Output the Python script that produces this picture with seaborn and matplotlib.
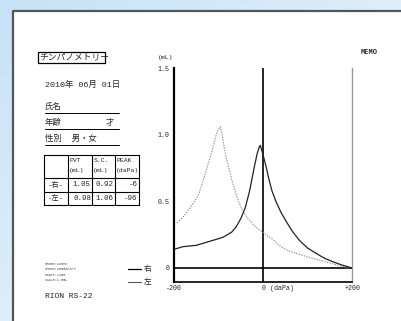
import numpy as np
import pandas as pd
import matplotlib
matplotlib.use("Agg")
import matplotlib.pyplot as plt
import seaborn as sns
from matplotlib.patches import Rectangle

# ---------------- data ----------------
right_pressure = [-200, -180, -150, -120, -90, -70, -60, -50, -40, -30, -20, -13, -8, -6,
                  0, 7, 13, 20, 29, 40, 52, 65, 81, 100, 119, 140, 155, 175, 200]
right_volume   = [0.14, 0.16, 0.17, 0.20, 0.23, 0.27, 0.31, 0.37, 0.45, 0.58, 0.75, 0.86, 0.91, 0.92,
                  0.85, 0.76, 0.67, 0.58, 0.50, 0.42, 0.35, 0.28, 0.21, 0.15, 0.11, 0.07, 0.05, 0.025, 0.0]

left_pressure = [-193, -180, -173, -162, -150, -144, -135, -125, -115, -106, -100, -96, -92, -88,
                 -83, -76, -70, -61, -55, -47, -40, -31, -20, -10, 0, 10, 20, 36, 50, 65, 85,
                 103, 120, 142, 170, 193]
left_volume   = [0.34, 0.38, 0.41, 0.46, 0.52, 0.56, 0.65, 0.76, 0.87, 0.99, 1.04, 1.06, 1.0, 0.92,
                 0.83, 0.74, 0.66, 0.56, 0.50, 0.44, 0.40, 0.36, 0.32, 0.29, 0.27, 0.24, 0.22, 0.17,
                 0.14, 0.12, 0.10, 0.08, 0.065, 0.045, 0.02, 0.0]

y_ticks = [0, 0.5, 1.0, 1.5]
y_ticklabels = ["0", "0.5", "1.0", "1.5"]
x_ticklabels = ["-200", "0 (daPa)", "+200"]

table_header = ["", "PVT\n(mL)", "S.C.\n(mL)", "PEAK\n(daPa)"]
table_rows = [["-右-", "1.05", "0.92", "-6"],
              ["-左-", "0.98", "1.06", "-96"]]

title_text = "チンパノメトリー"
date_text = "2010年 06月 01日"
name_label = "氏名"
age_label = "年齢"
age_unit = "才"
sex_label = "性別  男・女"
device_text = "RION RS-22"
memo_text = "MEMO"
legend_right = "右"
legend_left = "左"
small_lines = ["PROBE:226Hz", "SPEED:200daPa/s", "START:+200", "SCALE:1.5mL"]

# ---------------- figure ----------------
sns.set_theme(style="white")
plt.rcParams['font.family'] = ['Liberation Mono', 'Noto Sans CJK JP', 'DejaVu Sans']

W, H = 401, 321
fig = plt.figure(figsize=(W / 100, H / 100), dpi=100)

# background / page layer in pixel coordinates
bg = fig.add_axes([0, 0, 1, 1])
bg.set_xlim(0, W)
bg.set_ylim(H, 0)
bg.axis("off")
yy, xx = np.mgrid[0:H, 0:W]
t = np.clip((xx / W * 0.6 + yy / H * 0.6), 0, 1)
c0 = np.array([198, 226, 247]) / 255
c1 = np.array([238, 246, 252]) / 255
grad = c0[None, None, :] * (1 - t[..., None]) + c1[None, None, :] * t[..., None]
bg.imshow(grad, extent=[0, W, H, 0], aspect="auto", zorder=0)
bg.add_patch(Rectangle((12, 10), W + 5, H, facecolor="white", edgecolor="none", zorder=1))
bg.plot([12.5, 12.5, W + 5], [H + 5, 10.5, 10.5], color="#555555", lw=1.6, zorder=2, solid_capstyle="butt")

fs = 6
# title box
bg.add_patch(Rectangle((38, 51.5), 67, 11, facecolor="none", edgecolor="black", lw=0.9, zorder=3))
bg.text(39, 57, title_text, fontsize=6.3, va="center", ha="left", zorder=3)
bg.text(45, 85, date_text, fontsize=fs, va="center", ha="left", zorder=3)
bg.text(45, 107, name_label, fontsize=fs, va="center", ha="left", zorder=3)
bg.plot([45, 119], [112.5, 112.5], color="black", lw=0.7, zorder=3)
bg.text(45, 123, age_label, fontsize=fs, va="center", ha="left", zorder=3)
bg.text(106, 123, age_unit, fontsize=fs, va="center", ha="left", zorder=3)
bg.plot([45, 119], [128.5, 128.5], color="black", lw=0.7, zorder=3)
bg.text(45, 139, sex_label, fontsize=fs, va="center", ha="left", zorder=3)
bg.plot([45, 119], [145, 145], color="black", lw=0.7, zorder=3)

# table
col_x = [43.5, 68, 92, 115, 138.5]
row_y = [154.5, 178, 192, 205]
for x in col_x:
    bg.plot([x, x], [row_y[0], row_y[-1]], color="black", lw=0.8, zorder=3)
for y in row_y:
    bg.plot([col_x[0], col_x[-1]], [y, y], color="black", lw=0.8, zorder=3)
for j, h in enumerate(table_header):
    if h:
        l1, l2 = h.split("\n")
        bg.text(col_x[j] + 1.5, 160.5, l1, fontsize=4.6, va="center", ha="left", zorder=3)
        bg.text(col_x[j] + 0.5, 170.5, l2, fontsize=4.6, va="center", ha="left", zorder=3)
for i, row in enumerate(table_rows):
    yc = (row_y[i + 1] + row_y[i + 2]) / 2
    for j, v in enumerate(row):
        if j == 0:
            bg.text((col_x[0] + col_x[1]) / 2, yc, v, fontsize=5.2, va="center", ha="center", zorder=3)
        else:
            bg.text(col_x[j + 1] - 1, yc, v, fontsize=5.4, va="center", ha="right", zorder=3)

# small text lines
for k, s in enumerate(small_lines):
    bg.text(45, 264 + k * 5.3, s, fontsize=2.6, va="center", ha="left", color="#444444", zorder=3)
bg.text(45, 296, device_text, fontsize=5.8, va="center", ha="left", zorder=3)

# legend
bg.plot([128, 141], [269, 269], color="black", lw=0.9, zorder=3)
bg.text(144, 269, legend_right, fontsize=5.5, va="center", ha="left", zorder=3)
bg.plot([128, 141], [282, 282], color="#555555", lw=0.8, zorder=3)
bg.text(144, 282, legend_left, fontsize=5.5, va="center", ha="left", zorder=3)

bg.text(361, 52, memo_text, fontsize=5, fontweight="bold", va="center", ha="left", zorder=3)
bg.text(158, 57, "(mL)", fontsize=4.6, va="center", ha="left", zorder=3)

# ---------------- chart axes ----------------
x0, x1 = 174, 352
ytop, ybot = 68, 282
ax = fig.add_axes([x0 / W, 1 - ybot / H, (x1 - x0) / W, (ybot - ytop) / H])
ax.set_facecolor("none")
ax.set_xlim(-200, 200)
ax.set_ylim(-0.105, 1.5)

dfr = pd.DataFrame({"p": right_pressure, "v": right_volume})
dfl = pd.DataFrame({"p": left_pressure, "v": left_volume})
sns.lineplot(data=dfl, x="p", y="v", ax=ax, color="#8a8a8a", lw=0.8, linestyle=(0, (1.2, 1.2)), zorder=3)
sns.lineplot(data=dfr, x="p", y="v", ax=ax, color="#222222", lw=0.9, zorder=4)

ax.axhline(0, color="black", lw=1.2, zorder=2)
ax.axvline(0, color="black", lw=1.2, zorder=2)

ax.spines["top"].set_visible(False)
ax.spines["left"].set_color("black")
ax.spines["left"].set_linewidth(1.6)
ax.spines["bottom"].set_color("black")
ax.spines["bottom"].set_linewidth(1.2)
ax.spines["right"].set_color("#999999")
ax.spines["right"].set_linewidth(1.0)
ax.spines["right"].set_linestyle((0, (2, 1)))

ax.set_yticks(y_ticks)
ax.set_yticklabels(y_ticklabels, fontsize=4.8)
ax.tick_params(axis="y", length=2, width=0.6, pad=1, color="black")
ax.set_xticks([-200, 0, 200])
ax.set_xticklabels(["", "", ""])
ax.tick_params(axis="x", length=0, pad=2)
ax.set_xlabel("")
ax.set_ylabel("")

bg.text(174, 289, x_ticklabels[0], fontsize=4.8, va="center", ha="center", zorder=3)
bg.text(262, 289, x_ticklabels[1], fontsize=4.8, va="center", ha="left", zorder=3)
bg.text(353, 289, x_ticklabels[2], fontsize=4.8, va="center", ha="center", zorder=3)

fig.savefig("out.png", dpi=100)
